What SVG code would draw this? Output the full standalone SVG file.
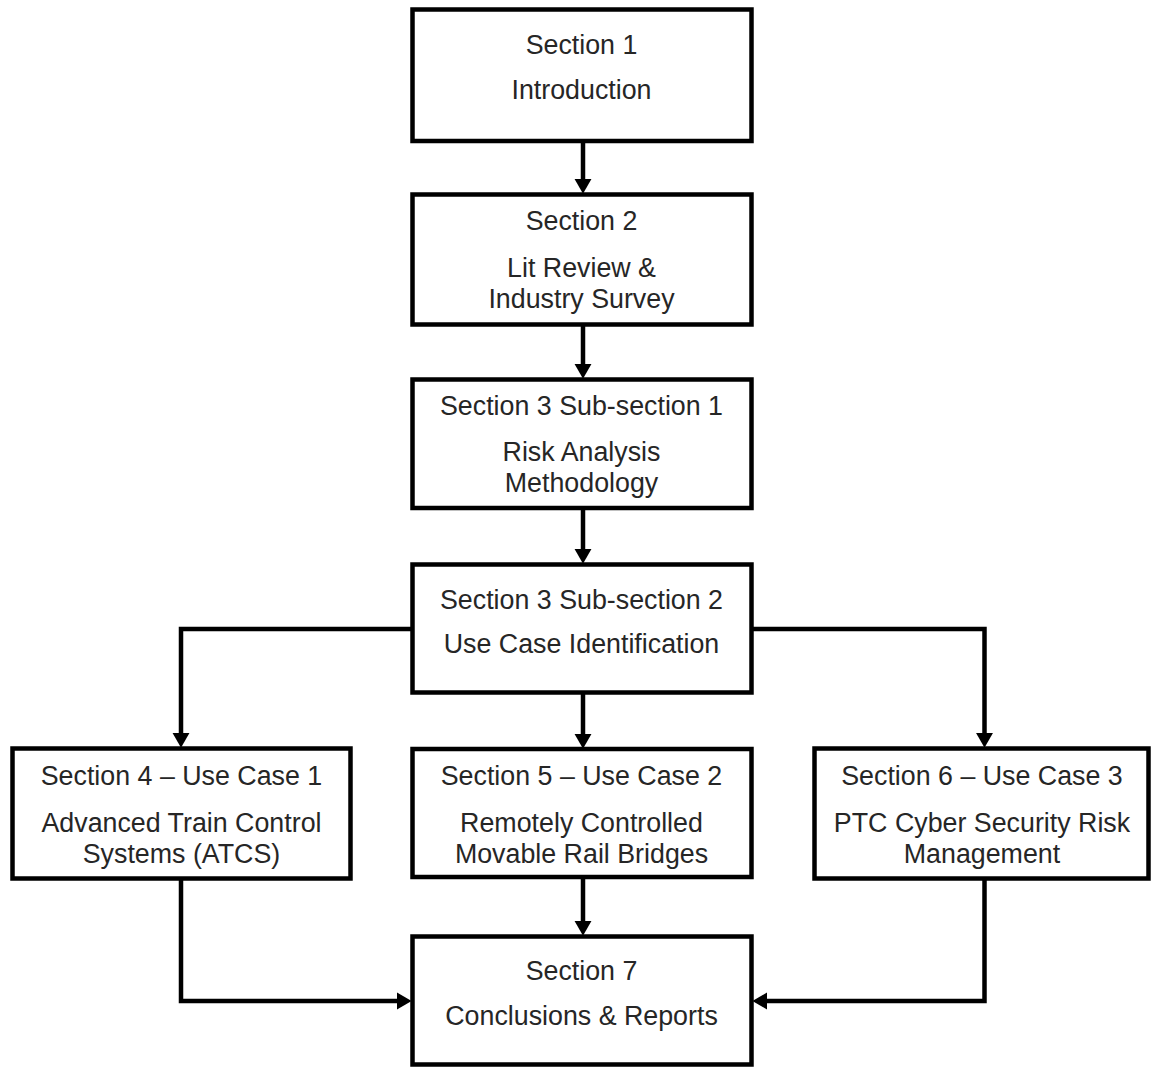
<svg xmlns="http://www.w3.org/2000/svg" width="1151" height="1067" viewBox="0 0 1151 1067">
  <style>
    .box { fill: #ffffff; stroke: #000000; stroke-width: 4.5; }
    .label { font-family: "Liberation Sans", Arial, sans-serif; font-size: 26.8px; fill: #262626; text-anchor: middle; }
    .conn { fill: none; stroke: #000000; stroke-width: 4.5; stroke-linejoin: miter; }
  </style>
  <defs>
    <marker id="arrow" markerUnits="userSpaceOnUse" markerWidth="16" markerHeight="18" viewBox="0 -8 14 16" refX="0" refY="0" orient="auto">
      <path d="M0,-7.5 L13,0 L0,7.5 Z" fill="#000000"/>
    </marker>
  </defs>

  <rect width="1151" height="1067" fill="#ffffff"/>

  <!-- connectors -->
  <g id="connectors">
    <path class="conn" d="M583,142 V179" marker-end="url(#arrow)"/>
    <path class="conn" d="M583,326 V364" marker-end="url(#arrow)"/>
    <path class="conn" d="M583,509 V549" marker-end="url(#arrow)"/>
    <path class="conn" d="M583,693 V734" marker-end="url(#arrow)"/>
    <path class="conn" d="M412,629 H181 V733" marker-end="url(#arrow)"/>
    <path class="conn" d="M751,629 H984.5 V733" marker-end="url(#arrow)"/>
    <path class="conn" d="M583,878 V921" marker-end="url(#arrow)"/>
    <path class="conn" d="M181,879 V1001 H397" marker-end="url(#arrow)"/>
    <path class="conn" d="M984.5,879 V1001 H767" marker-end="url(#arrow)"/>
  </g>

  <!-- nodes -->
  <g id="section1">
    <rect class="box" x="412.5" y="9.5" width="339" height="131.5"/>
    <text class="label" x="581.5" y="53.5">Section 1</text>
    <text class="label" x="581.5" y="98.5">Introduction</text>
  </g>

  <g id="section2">
    <rect class="box" x="412.5" y="194.5" width="339" height="130"/>
    <text class="label" x="581.5" y="229.5">Section 2</text>
    <text class="label" x="581.5" y="276.5">Lit Review &amp;</text>
    <text class="label" x="581.5" y="307.5">Industry Survey</text>
  </g>

  <g id="section3-1">
    <rect class="box" x="412.5" y="379.5" width="339" height="128.5"/>
    <text class="label" x="581.5" y="414.5">Section 3 Sub-section 1</text>
    <text class="label" x="581.5" y="460.5">Risk Analysis</text>
    <text class="label" x="581.5" y="491.5">Methodology</text>
  </g>

  <g id="section3-2">
    <rect class="box" x="412.5" y="564.5" width="339" height="128"/>
    <text class="label" x="581.5" y="608.5">Section 3 Sub-section 2</text>
    <text class="label" x="581.5" y="652.5">Use Case Identification</text>
  </g>

  <g id="section4">
    <rect class="box" x="12.5" y="748.5" width="338" height="130"/>
    <text class="label" x="181.5" y="784.5">Section 4 – Use Case 1</text>
    <text class="label" x="181.5" y="831.5">Advanced Train Control</text>
    <text class="label" x="181.5" y="862.5">Systems (ATCS)</text>
  </g>

  <g id="section5">
    <rect class="box" x="412.5" y="749" width="339" height="128"/>
    <text class="label" x="581.5" y="784.5">Section 5 – Use Case 2</text>
    <text class="label" x="581.5" y="831.5">Remotely Controlled</text>
    <text class="label" x="581.5" y="862.5">Movable Rail Bridges</text>
  </g>

  <g id="section6">
    <rect class="box" x="814.5" y="748.5" width="334" height="130"/>
    <text class="label" x="982" y="784.5">Section 6 – Use Case 3</text>
    <text class="label" x="982" y="831.5">PTC Cyber Security Risk</text>
    <text class="label" x="982" y="862.5">Management</text>
  </g>

  <g id="section7">
    <rect class="box" x="412.5" y="936.5" width="339" height="128"/>
    <text class="label" x="581.5" y="979.5">Section 7</text>
    <text class="label" x="581.5" y="1024.5">Conclusions &amp; Reports</text>
  </g>
</svg>
